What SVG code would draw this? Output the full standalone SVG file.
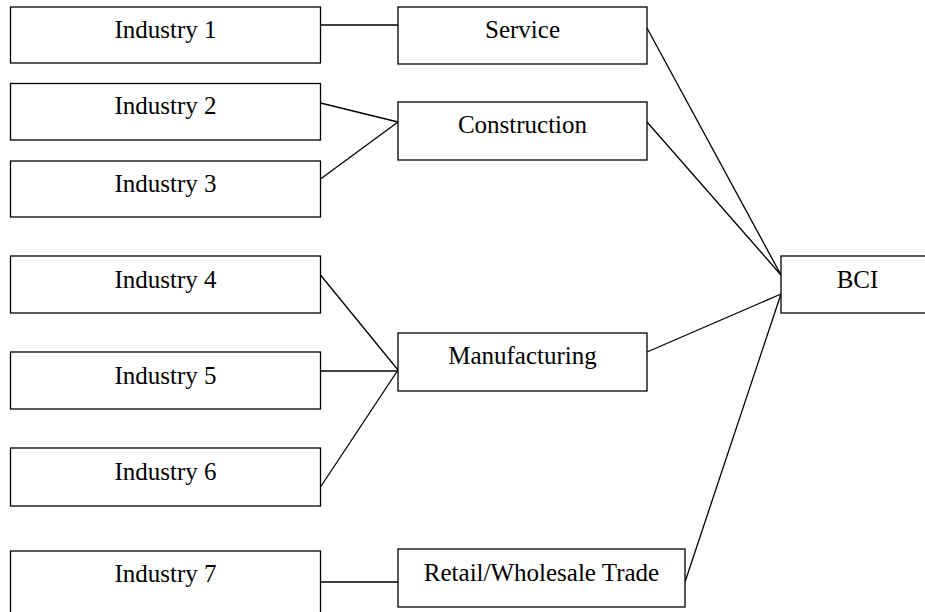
<svg xmlns="http://www.w3.org/2000/svg" width="925" height="612" viewBox="0 0 925 612">
<style>
rect{fill:#fff;stroke:#000;stroke-width:1.3}
text{font-family:"Liberation Serif","Times New Roman",serif;font-size:25px;fill:#000;text-anchor:middle}
#connectors line{stroke:#000;stroke-width:1.3}
</style>
<rect x="0" y="0" width="925" height="612" style="stroke:none"/>
<g id="connectors">
<line x1="320.5" y1="25" x2="398" y2="25"/>
<line x1="320.5" y1="103" x2="398" y2="122"/>
<line x1="320.5" y1="179" x2="398" y2="122"/>
<line x1="320.5" y1="275" x2="398" y2="370"/>
<line x1="320.5" y1="371" x2="398" y2="371"/>
<line x1="320.5" y1="487" x2="398" y2="370"/>
<line x1="320.5" y1="582" x2="398" y2="582"/>
<line x1="647" y1="28" x2="781" y2="275"/>
<line x1="647" y1="122" x2="781" y2="275"/>
<line x1="647" y1="352" x2="781" y2="294"/>
<line x1="685" y1="582" x2="781" y2="294"/>
</g>
<g id="industry1"><rect x="10.5" y="7" width="310" height="56"/><text x="165.5" y="38">Industry 1</text></g>
<g id="industry2"><rect x="10.5" y="83.5" width="310" height="56.5"/><text x="165.5" y="114">Industry 2</text></g>
<g id="industry3"><rect x="10.5" y="161" width="310" height="56"/><text x="165.5" y="192">Industry 3</text></g>
<g id="industry4"><rect x="10.5" y="256" width="310" height="57"/><text x="165.5" y="288">Industry 4</text></g>
<g id="industry5"><rect x="10.5" y="352" width="310" height="57"/><text x="165.5" y="384">Industry 5</text></g>
<g id="industry6"><rect x="10.5" y="448" width="310" height="58"/><text x="165.5" y="480">Industry 6</text></g>
<g id="industry7"><rect x="10.5" y="551" width="310" height="80"/><text x="165.5" y="582">Industry 7</text></g>
<g id="service"><rect x="398" y="7" width="249" height="57"/><text x="522.5" y="38">Service</text></g>
<g id="construction"><rect x="398" y="102" width="249" height="58"/><text x="522.5" y="133">Construction</text></g>
<g id="manufacturing"><rect x="398" y="333" width="249" height="58"/><text x="522.5" y="364">Manufacturing</text></g>
<g id="retail"><rect x="398" y="549" width="287" height="58"/><text x="541.5" y="581">Retail/Wholesale Trade</text></g>
<g id="bci"><rect x="781" y="256" width="170" height="57"/><text x="857.5" y="288">BCI</text></g>
</svg>
